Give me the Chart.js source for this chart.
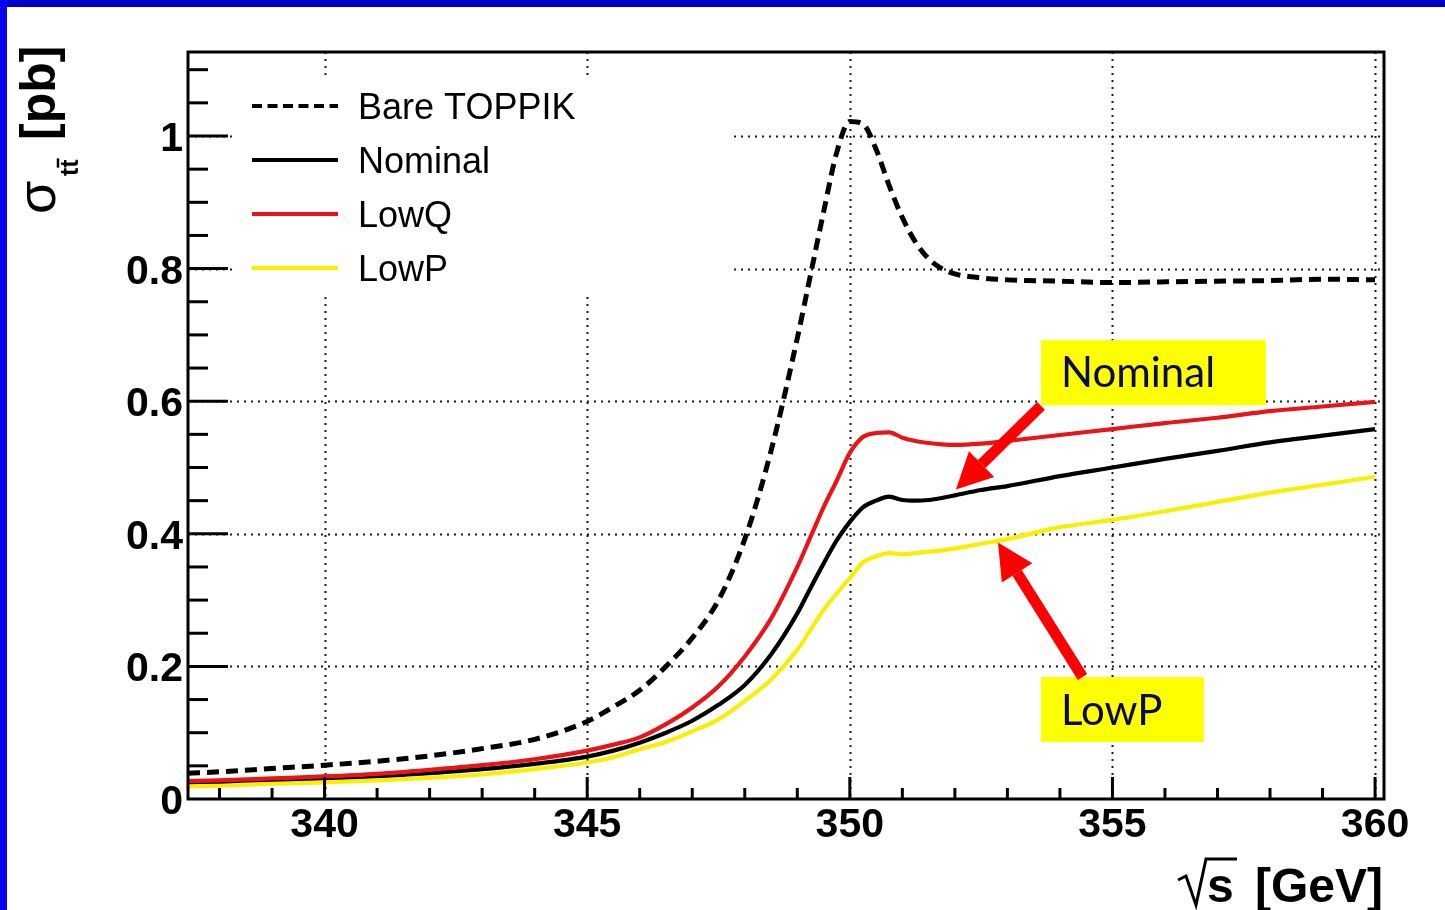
<!DOCTYPE html>
<html>
<head>
<meta charset="utf-8">
<title>ttbar threshold cross section</title>
<script src="https://cdn.jsdelivr.net/npm/chart.js@4.4.1/dist/chart.umd.min.js"></script>
<style>
  html, body { margin: 0; padding: 0; background: #fff; }
  #wrap { position: relative; width: 1445px; height: 910px; overflow: hidden; background: #fff; }
  #wrap canvas { position: absolute; left: 0; top: 0; }
  #topBar { position: absolute; left: 0; top: 0; width: 1445px; height: 7px; background: #0000c8; }
  #leftBar { position: absolute; left: 0; top: 0; width: 7px; height: 910px; background: #0505ee; }
</style>
</head>
<body>
<div id="wrap">
  <canvas id="xsecChart" width="1445" height="910"></canvas>
  <div id="topBar"></div>
  <div id="leftBar"></div>
</div>
<script>
// sqrt(s) scan points [GeV]
const energies = [337.4, 338, 339, 340, 341, 342, 343, 344, 345, 345.5, 346, 346.5, 347, 347.5,
  348, 348.5, 349, 349.25, 349.5, 349.75, 350, 350.25, 350.5, 350.75, 351, 351.25, 351.5, 351.75,
  352, 352.5, 353, 354, 355, 356, 357, 358, 359, 360];

// cross sections [pb]
const bareToppik = [0.039, 0.041, 0.046, 0.051, 0.057, 0.065, 0.076, 0.090, 0.117, 0.139, 0.164, 0.200, 0.243, 0.300,
  0.392, 0.525, 0.695, 0.790, 0.885, 0.975, 1.022, 1.018, 0.980, 0.925, 0.877, 0.840, 0.815, 0.800,
  0.792, 0.786, 0.783, 0.781, 0.779, 0.780, 0.781, 0.782, 0.784, 0.783];
const nominal = [0.024, 0.025, 0.028, 0.031, 0.034, 0.039, 0.045, 0.053, 0.064, 0.073, 0.085, 0.100, 0.118, 0.142,
  0.172, 0.218, 0.280, 0.318, 0.355, 0.390, 0.418, 0.440, 0.450, 0.456, 0.451, 0.450, 0.451, 0.454,
  0.458, 0.466, 0.472, 0.487, 0.500, 0.513, 0.525, 0.538, 0.548, 0.558];
const lowQ = [0.027, 0.028, 0.031, 0.034, 0.038, 0.044, 0.051, 0.060, 0.073, 0.082, 0.093, 0.113, 0.138, 0.170,
  0.215, 0.272, 0.350, 0.395, 0.440, 0.480, 0.522, 0.546, 0.552, 0.553, 0.545, 0.540, 0.537, 0.535,
  0.534, 0.536, 0.540, 0.549, 0.558, 0.567, 0.575, 0.585, 0.592, 0.599];
const lowP = [0.019, 0.020, 0.023, 0.025, 0.028, 0.032, 0.037, 0.045, 0.055, 0.063, 0.075, 0.086, 0.102, 0.120,
  0.148, 0.180, 0.225, 0.255, 0.285, 0.310, 0.333, 0.357, 0.366, 0.371, 0.369, 0.371, 0.373, 0.375,
  0.378, 0.385, 0.392, 0.410, 0.421, 0.434, 0.448, 0.462, 0.474, 0.486];

const seriesLabels = ["Bare TOPPIK", "Nominal", "LowQ", "LowP"];

// axis ticks
const xMajor = [340, 345, 350, 355, 360];
const xTickLabels = ["340", "345", "350", "355", "360"];
const yMajor = [0, 0.2, 0.4, 0.6, 0.8, 1.0];
const yTickLabels = ["0", "0.2", "0.4", "0.6", "0.8", "1"];

const FONT = '"Liberation Sans", Arial, Helvetica, sans-serif';
const NOTE_FONT = '"Comic Sans MS", Lato, sans-serif';

const toPoints = (ys) => energies.map((e, i) => ({ x: e, y: ys[i] }));

// dotted grid + legend go under the curves
const underlay = {
  id: "underlay",
  beforeDatasetsDraw(chart) {
    const { ctx, chartArea: a, scales: { x, y } } = chart;
    ctx.save();
    ctx.strokeStyle = "#1a1a1a";
    ctx.lineWidth = 2;
    ctx.setLineDash([2, 5]);
    xMajor.forEach((v) => {
      const px = Math.round(x.getPixelForValue(v)) + 0.5;
      ctx.beginPath(); ctx.moveTo(px, a.top); ctx.lineTo(px, a.bottom); ctx.stroke();
    });
    yMajor.forEach((v) => {
      if (v === 0) return;
      const py = Math.round(y.getPixelForValue(v)) + 0.5;
      ctx.beginPath(); ctx.moveTo(a.left, py); ctx.lineTo(a.right, py); ctx.stroke();
    });
    ctx.restore();

    // legend
    ctx.save();
    ctx.fillStyle = "#fff";
    ctx.fillRect(234, 80, 500, 216);
    chart.data.datasets.forEach((ds, i) => {
      const yy = 106 + i * 54;
      ctx.strokeStyle = ds.borderColor;
      ctx.lineWidth = 4;
      ctx.setLineDash(ds.borderDash ? [10, 5.5] : []);
      ctx.beginPath(); ctx.moveTo(252, yy); ctx.lineTo(338, yy); ctx.stroke();
      ctx.fillStyle = "#000";
      ctx.font = "36px " + FONT;
      ctx.textAlign = "left";
      ctx.textBaseline = "alphabetic";
      ctx.fillText(ds.label, 358, yy + 13);
    });
    ctx.restore();
  },
};

// frame, ticks, labels and titles
const frame = {
  id: "frame",
  afterDatasetsDraw(chart) {
    const { ctx, chartArea: a, scales: { x, y } } = chart;
    ctx.save();
    ctx.strokeStyle = "#000";
    ctx.lineWidth = 3;
    ctx.strokeRect(a.left, a.top, a.right - a.left, a.bottom - a.top);

    // x ticks along the bottom
    for (let v = 338; v <= 360; v++) {
      const px = x.getPixelForValue(v);
      const len = v % 5 === 0 ? 22 : 11;
      ctx.beginPath(); ctx.moveTo(px, a.bottom); ctx.lineTo(px, a.bottom - len); ctx.stroke();
    }
    // y ticks along the left
    for (let k = 1; k <= 22; k++) {
      const v = k * 0.05;
      const py = y.getPixelForValue(v);
      const len = k % 4 === 0 ? 40 : 20;
      ctx.beginPath(); ctx.moveTo(a.left, py); ctx.lineTo(a.left + len, py); ctx.stroke();
    }

    ctx.fillStyle = "#000";
    ctx.font = "bold 41px " + FONT;
    ctx.textBaseline = "alphabetic";
    ctx.textAlign = "center";
    xMajor.forEach((v, i) => ctx.fillText(xTickLabels[i], x.getPixelForValue(v), a.bottom + 38));
    ctx.textAlign = "right";
    yMajor.forEach((v, i) => ctx.fillText(yTickLabels[i], a.left - 5, y.getPixelForValue(v) + 15));

    // x title: sqrt(s) [GeV]
    ctx.lineWidth = 3;
    ctx.lineJoin = "miter";
    ctx.beginPath();
    ctx.moveTo(1178, 880); ctx.lineTo(1186, 876); ctx.lineTo(1196, 905);
    ctx.lineTo(1206, 859); ctx.lineTo(1237, 859);
    ctx.stroke();
    ctx.font = "bold 48px " + FONT;
    ctx.textAlign = "left";
    ctx.fillText("s", 1207, 902);
    ctx.textAlign = "right";
    ctx.fillText("[GeV]", 1383, 902);

    // y title: sigma_{t tbar} [pb], rotated
    ctx.translate(55, 215);
    ctx.rotate(-Math.PI / 2);
    ctx.textAlign = "left";
    ctx.font = "54px " + FONT;
    ctx.fillText("σ", 1, 0);
    ctx.font = "bold 25px " + FONT;
    const tw = ctx.measureText("t").width;
    ctx.fillText("tt", 39, 23);
    ctx.lineWidth = 2.5;
    ctx.beginPath(); ctx.moveTo(39 + tw, 3); ctx.lineTo(39 + 2 * tw + 1, 3); ctx.stroke();
    ctx.font = "bold 50px " + FONT;
    ctx.fillText("[pb]", 75, 0);
    ctx.restore();
  },
};

// yellow call-out boxes with red arrows
const notes = [
  { text: "Nominal", box: [353.64, 0.692, 357.92, 0.594], textAt: [354.02, 0.621], from: [353.64, 0.593], to: [352.02, 0.467] },
  { text: "LowP", box: [353.64, 0.184, 356.74, 0.086], textAt: [354.02, 0.112], from: [354.43, 0.184], to: [352.82, 0.387] },
];

const drawArrow = (ctx, x0, y0, x1, y1) => {
  const ang = Math.atan2(y1 - y0, x1 - x0);
  const headLen = 36, half = 18;
  const bx = x1 - headLen * Math.cos(ang), by = y1 - headLen * Math.sin(ang);
  ctx.strokeStyle = "#ff0000";
  ctx.fillStyle = "#ff0000";
  ctx.lineWidth = 11;
  ctx.lineCap = "butt";
  ctx.beginPath(); ctx.moveTo(x0, y0); ctx.lineTo(bx, by); ctx.stroke();
  ctx.beginPath();
  ctx.moveTo(x1, y1);
  ctx.lineTo(bx + half * Math.sin(ang), by - half * Math.cos(ang));
  ctx.lineTo(bx - half * Math.sin(ang), by + half * Math.cos(ang));
  ctx.closePath();
  ctx.fill();
};

const callouts = {
  id: "callouts",
  afterDraw(chart) {
    const { ctx, scales: { x, y } } = chart;
    ctx.save();
    notes.forEach((n) => {
      const l = x.getPixelForValue(n.box[0]), t = y.getPixelForValue(n.box[1]);
      const r = x.getPixelForValue(n.box[2]), b = y.getPixelForValue(n.box[3]);
      ctx.fillStyle = "#ffff00";
      ctx.fillRect(l, t, r - l, b - t);
      ctx.fillStyle = "#0a0a5c";
      ctx.font = "42px " + NOTE_FONT;
      ctx.textAlign = "left";
      ctx.textBaseline = "alphabetic";
      ctx.fillText(n.text, x.getPixelForValue(n.textAt[0]), y.getPixelForValue(n.textAt[1]));
      drawArrow(ctx, x.getPixelForValue(n.from[0]), y.getPixelForValue(n.from[1]),
        x.getPixelForValue(n.to[0]), y.getPixelForValue(n.to[1]));
    });
    ctx.restore();
  },
};

const ctx = document.getElementById("xsecChart").getContext("2d");

new Chart(ctx, {
  type: "line",
  data: {
    datasets: [
      { label: seriesLabels[0], data: toPoints(bareToppik), borderColor: "#000000", borderWidth: 5, borderDash: [12, 7], order: 3 },
      { label: seriesLabels[1], data: toPoints(nominal), borderColor: "#000000", borderWidth: 4.2, order: 2 },
      { label: seriesLabels[2], data: toPoints(lowQ), borderColor: "#e81418", borderWidth: 4.2, order: 1 },
      { label: seriesLabels[3], data: toPoints(lowP), borderColor: "#f8f000", borderWidth: 4.2, order: 0 },
    ],
  },
  options: {
    responsive: false,
    animation: false,
    devicePixelRatio: 1,
    layout: { padding: { left: 188, top: 52, right: 61, bottom: 111 } },
    elements: {
      point: { radius: 0 },
      line: { cubicInterpolationMode: "monotone", fill: false },
    },
    scales: {
      x: { type: "linear", min: 337.4, max: 360.17, display: false },
      y: { type: "linear", min: 0, max: 1.1267, display: false },
    },
    plugins: {
      legend: { display: false },
      tooltip: { enabled: false },
    },
  },
  plugins: [underlay, frame, callouts],
});
</script>
</body>
</html>
